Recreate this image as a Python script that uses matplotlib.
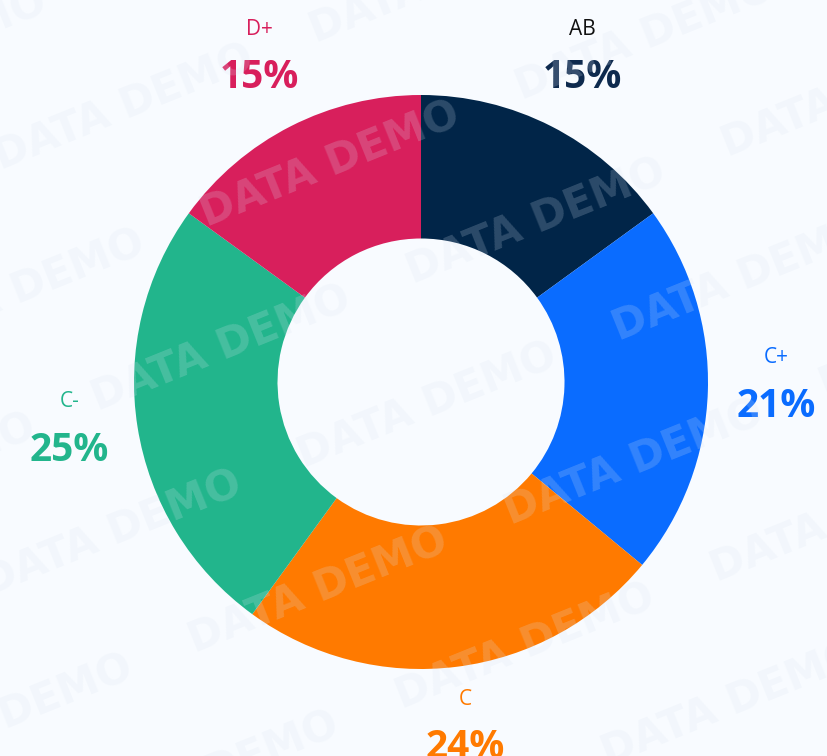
import numpy as np
import matplotlib.pyplot as plt

# Datos del gráfico
categorias = ["AB", "C+", "C", "C-", "D+"]
porcentajes = [15, 21, 24, 25, 15]
colores = ["#012548", "#0a6cff", "#ff7a00", "#22b58c", "#d81f5c"]
colores_nombre = ["#111111", "#0a6cff", "#ff7a00", "#22b58c", "#d81f5c"]
colores_pct = ["#0e2a4e", "#0a6cff", "#ff7a00", "#22b58c", "#d81f5c"]

W, H = 828, 756
cx, cy, R = 421, 382, 287  # centro y radio en píxeles
fondo = "#f8fbff"

fig = plt.figure(figsize=(W / 100, H / 100), dpi=100, facecolor=fondo)
ax = fig.add_axes([0, 0, 1, 1])
ax.set_facecolor(fondo)

wedges, _ = ax.pie(porcentajes, colors=colores, startangle=90, counterclock=False,
                   radius=1, wedgeprops=dict(width=0.5, linewidth=0))
ax.set_xlim(-cx / R, (W - cx) / R)
ax.set_ylim(-(H - cy) / R, cy / R)
ax.set_aspect("auto")
ax.axis("off")

# Etiquetas: nombre arriba, porcentaje abajo
for w, nom, pct, cn, cp in zip(wedges, categorias, porcentajes, colores_nombre, colores_pct):
    ang = np.deg2rad((w.theta1 + w.theta2) / 2)
    r = 1.24
    x, y = r * np.cos(ang), r * np.sin(ang) + 0.04
    ax.text(x, y + 0.085, nom, ha="center", va="center", fontsize=15,
            color=cn, family="Open Sans")
    ax.text(x, y - 0.085, f"{pct}%", ha="center", va="center", fontsize=28,
            color=cp, family="Open Sans", fontweight="bold")

# Marca de agua "DATA DEMO"
rot = 22
d = np.array([np.cos(np.deg2rad(rot)), np.sin(np.deg2rad(rot))])
p = np.array([-d[1], d[0]])
for i in range(-4, 6):
    for j in range(-6, 7):
        pos = np.array([330, H - 165]) + i * 340 * d + j * 130 * p + (j % 2) * 170 * d
        if -200 < pos[0] < W + 200 and -100 < pos[1] < H + 100:
            fig.text(pos[0] / W, pos[1] / H, "DATA DEMO", rotation=rot,
                     ha="center", va="center", fontsize=30, fontweight="bold",
                     family="DejaVu Sans", color="#dbe5f2", alpha=0.2, zorder=10)

fig.savefig("out.png", dpi=100, facecolor=fondo)
